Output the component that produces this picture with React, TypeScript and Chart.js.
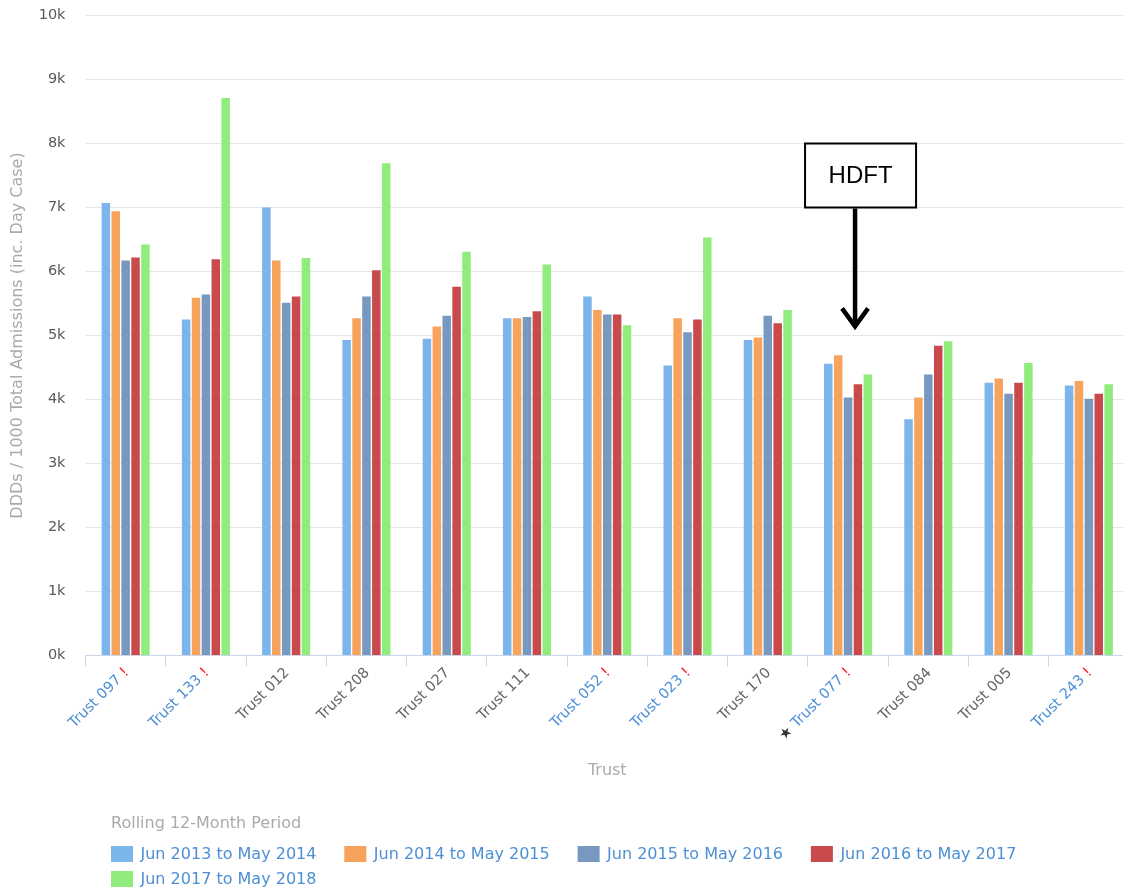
import React, { useEffect, useRef } from "react";
import { Chart, registerables } from "chart.js";

Chart.register(...registerables);

const FONT = "'DejaVu Sans', Verdana, sans-serif";
const LINK = "#4d8fd6";
const GRAY = "#666666";
const TITLE_GRAY = "#aaaaaa";

const categories = [
  "Trust 097", "Trust 133", "Trust 012", "Trust 208", "Trust 027", "Trust 111", "Trust 052",
  "Trust 023", "Trust 170", "Trust 077", "Trust 084", "Trust 005", "Trust 243",
];
const flagged = [true, true, false, false, false, false, true, true, false, true, false, false, true];
const starred = [false, false, false, false, false, false, false, false, false, true, false, false, false];

const seriesLabels = [
  "Jun 2013 to May 2014",
  "Jun 2014 to May 2015",
  "Jun 2015 to May 2016",
  "Jun 2016 to May 2017",
  "Jun 2017 to May 2018",
];
const seriesColors = ["#7cb5ec", "#f7a35c", "#7798bf", "#c94a4a", "#90ed7d"];

const jun13 = [7070, 5250, 7000, 4930, 4950, 5270, 5610, 4530, 4930, 4560, 3690, 4260, 4220];
const jun14 = [6940, 5590, 6170, 5270, 5140, 5270, 5400, 5270, 4970, 4690, 4030, 4330, 4290];
const jun15 = [6170, 5640, 5510, 5610, 5310, 5290, 5330, 5050, 5310, 4030, 4390, 4090, 4010];
const jun16 = [6220, 6190, 5610, 6020, 5760, 5380, 5330, 5250, 5190, 4240, 4840, 4260, 4090];
const jun17 = [6420, 8710, 6210, 7690, 6310, 6110, 5160, 6530, 5400, 4390, 4910, 4570, 4240];
const seriesValues = [jun13, jun14, jun15, jun16, jun17];

const yMin = 0;
const yMax = 10000;
const yStep = 1000;

const yTitle = "DDDs / 1000 Total Admissions (inc. Day Case)";
const xTitle = "Trust";
const legendTitle = "Rolling 12-Month Period";
const annotationText = "HDFT";
const annotationIndex = 9;

const overlay = {
  id: "overlay",
  afterDraw(chart: any) {
    const ctx: CanvasRenderingContext2D = chart.ctx;
    const xs = chart.scales.x;
    const ys = chart.scales.y;
    const area = chart.chartArea;
    ctx.save();

    // x category labels (rotated)
    ctx.font = `14.5px ${FONT}`;
    categories.forEach((c, i) => {
      const cx = xs.getPixelForValue(i);
      const segs: { t: string; col: string }[] = [];
      if (starred[i]) segs.push({ t: "\u2605 ", col: "#333333" });
      segs.push({ t: c, col: flagged[i] ? LINK : GRAY });
      if (flagged[i]) segs.push({ t: " !", col: "#ff1a1a" });
      ctx.save();
      ctx.translate(cx + 1, area.bottom + 15);
      ctx.rotate(-Math.PI / 4);
      ctx.textAlign = "right";
      ctx.textBaseline = "middle";
      let x = 0;
      for (let k = segs.length - 1; k >= 0; k--) {
        ctx.fillStyle = segs[k].col;
        ctx.fillText(segs[k].t, x, 0);
        x -= ctx.measureText(segs[k].t).width;
      }
      ctx.restore();
    });

    // y title
    ctx.save();
    ctx.font = `16px ${FONT}`;
    ctx.fillStyle = TITLE_GRAY;
    ctx.translate(18, (area.top + area.bottom) / 2);
    ctx.rotate(-Math.PI / 2);
    ctx.textAlign = "center";
    ctx.textBaseline = "middle";
    ctx.fillText(yTitle, 0, 0);
    ctx.restore();

    // x title
    ctx.font = `16px ${FONT}`;
    ctx.fillStyle = TITLE_GRAY;
    ctx.textAlign = "center";
    ctx.textBaseline = "middle";
    ctx.fillText(xTitle, (area.left + area.right) / 2, 771);

    // legend
    ctx.textAlign = "left";
    ctx.fillText(legendTitle, 111, 824);
    chart.data.datasets.forEach((ds: any, k: number) => {
      const row = k < 4 ? 0 : 1;
      const col = k % 4;
      const bx = 111 + col * 233.3;
      const by = 846 + row * 25;
      ctx.fillStyle = ds.backgroundColor;
      ctx.fillRect(bx, by, 22, 16);
      ctx.fillStyle = LINK;
      ctx.textBaseline = "middle";
      ctx.fillText(ds.label, bx + 29.5, by + 8.5);
    });

    // HDFT annotation
    const ax = xs.getPixelForValue(annotationIndex);
    const boxL = ax - 43;
    const boxR = ax + 68;
    const boxT = ys.getPixelForValue(8000);
    const boxB = ys.getPixelForValue(7000);
    ctx.fillStyle = "#ffffff";
    ctx.fillRect(boxL, boxT, boxR - boxL, boxB - boxT);
    ctx.strokeStyle = "#000000";
    ctx.lineWidth = 2;
    ctx.strokeRect(boxL, boxT, boxR - boxL, boxB - boxT);
    ctx.fillStyle = "#000000";
    ctx.font = "24px 'Liberation Sans', Arial, sans-serif";
    ctx.textAlign = "center";
    ctx.textBaseline = "middle";
    ctx.fillText(annotationText, (boxL + boxR) / 2, (boxT + boxB) / 2 + 1);

    const lx = ax + 7;
    const tipY = ys.getPixelForValue(5080);
    ctx.lineWidth = 4.5;
    ctx.lineCap = "butt";
    ctx.beginPath();
    ctx.moveTo(lx, boxB + 1);
    ctx.lineTo(lx, tipY - 4);
    ctx.stroke();
    ctx.lineWidth = 4.5;
    ctx.lineJoin = "miter";
    ctx.beginPath();
    ctx.moveTo(lx - 13, tipY - 22);
    ctx.lineTo(lx, tipY - 4);
    ctx.lineTo(lx + 13, tipY - 22);
    ctx.stroke();

    ctx.restore();
  },
};

export default function App() {
  const ref = useRef<HTMLCanvasElement>(null);
  useEffect(() => {
    if (!ref.current) return;
    const chart = new Chart(ref.current, {
      type: "bar",
      data: {
        labels: categories,
        datasets: seriesValues.map((vals, k) => ({
          label: seriesLabels[k],
          data: vals,
          backgroundColor: seriesColors[k],
          borderWidth: 0,
          categoryPercentage: 0.616,
          barPercentage: 0.86,
        })),
      },
      options: {
        responsive: false,
        animation: false,
        devicePixelRatio: 1,
        layout: { padding: { top: 15.5, left: 0, right: 1, bottom: 0 } },
        plugins: {
          legend: { display: false },
          tooltip: { enabled: false },
          title: { display: false },
        },
        scales: {
          x: {
            offset: true,
            grid: {
              display: true,
              drawOnChartArea: false,
              drawTicks: true,
              tickLength: 11,
              color: "#ccd6eb",
              offset: true,
            },
            border: { display: true, color: "#ccd6eb" },
            ticks: { display: false, autoSkip: false },
            afterFit: (s: any) => {
              s.height = 891 - 655.5;
            },
          },
          y: {
            min: yMin,
            max: yMax,
            ticks: {
              stepSize: yStep,
              padding: 0,
              color: "#5a5a5a",
              font: { family: FONT, size: 14.5 },
              callback: (v: any) => `${Number(v) / 1000}k`,
            },
            grid: { color: "#e6e6e6", drawTicks: true, tickLength: 20, tickColor: "rgba(0,0,0,0)" },
            border: { display: false },
            afterFit: (s: any) => {
              s.width = 85.5;
            },
          },
        },
      },
      plugins: [overlay],
    } as any);
    return () => chart.destroy();
  }, []);
  return (
    <div
      style={{
        position: "fixed",
        left: 0,
        top: 0,
        width: 1123,
        height: 891,
        overflow: "hidden",
        background: "#ffffff",
      }}
    >
      <canvas ref={ref} width={1130} height={891} style={{ display: "block", width: 1130, height: 891 }} />
    </div>
  );
}
